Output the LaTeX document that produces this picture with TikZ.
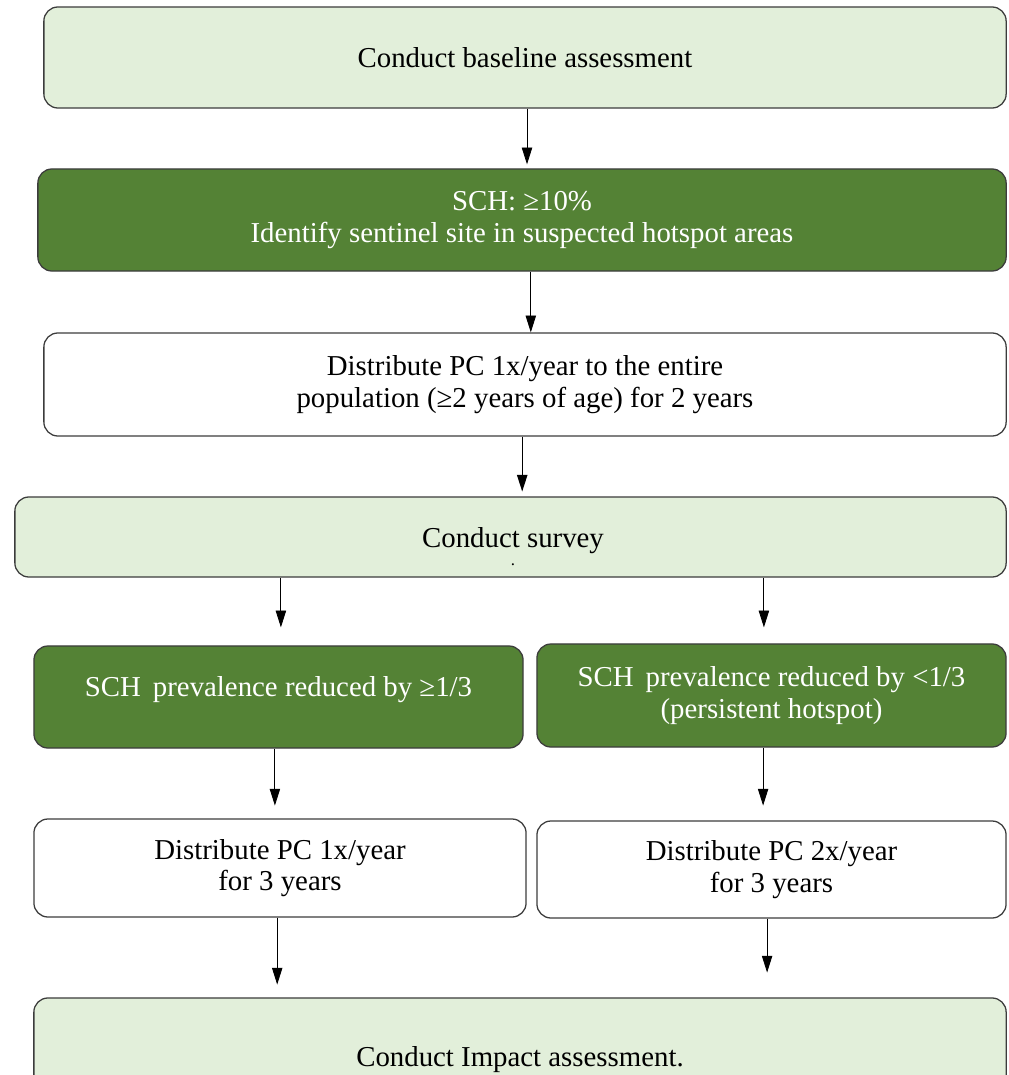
\documentclass[tikz,border=0pt]{standalone}
\usepackage{fontspec}
\setmainfont{Liberation Serif}
\usetikzlibrary{arrows.meta}
\definecolor{palegreen}{HTML}{E2EFDA}
\definecolor{darkgreen}{HTML}{548235}
\definecolor{edgegray}{HTML}{3C3C3C}
\tikzset{box/.style = {draw=edgegray, line width=0.9pt, rounded corners=0.35cm,
                       align=center, inner sep=0, font=\fontsize{20.5}{22.5}\selectfont}}
\tikzset{pale/.style = {box, fill=palegreen}}
\tikzset{dark/.style = {box, fill=darkgreen, text=white}}
\tikzset{plain/.style = {box, fill=white}}
\tikzset{arr/.style = {-{Triangle[length=0.42cm, width=0.26cm]}, line width=0.6pt}}

\begin{document}
\begin{tikzpicture}[x=0.025cm, y=-0.025cm]
    \useasboundingbox (0, 0) rectangle (1008, 1075);
    \clip (0, 0) rectangle (1008, 1075);

    \node [pale, minimum width=24.05cm, minimum height=2.525cm] (baseline) at (525, 57.5)
        {Conduct baseline assessment};
    \node [dark, minimum width=24.2cm, minimum height=2.55cm] (sentinel) at (522, 220)
        {SCH: ≥10\%\\Identify sentinel site in suspected hotspot areas};
    \node [plain, minimum width=24.05cm, minimum height=2.575cm] (pcall) at (525, 384.5)
        {Distribute PC 1x/year to the entire\\population (≥2 years of age) for 2 years};
    \node [pale, minimum width=24.775cm, minimum height=2cm] (survey) at (510.5, 537) {};
    \node [font=\fontsize{20.5}{22.5}\selectfont] (surveytext) at (513, 541) {Conduct survey};
    \node [font=\fontsize{12}{12}\selectfont, inner sep=0] (surveydot) at (513, 565) {.};

    \node [dark, minimum width=12.225cm, minimum height=2.55cm] (reduced) at (278.5, 697) {};
    \node [font=\fontsize{20.5}{22.5}\selectfont, text=white] (reducedtext) at (278.5, 690)
        {SCH\, prevalence reduced by ≥1/3};
    \node [dark, minimum width=11.725cm, minimum height=2.575cm] (persist) at (771.5, 695.5)
        {SCH\, prevalence reduced by {<}1/3\\(persistent hotspot)};

    \node [plain, minimum width=12.3cm, minimum height=2.45cm] (pconce) at (280, 868)
        {Distribute PC 1x/year\\for 3 years};
    \node [plain, minimum width=11.725cm, minimum height=2.425cm] (pctwice) at (771.5, 869.5)
        {Distribute PC 2x/year\\for 3 years};

    \node [pale, minimum width=24.3cm, minimum height=3.1cm] (impact) at (520, 1060)
        {Conduct Impact assessment.};

    \draw [arr, shorten >=0.1cm] ([xshift=0.05cm]baseline.south)
        -- ([xshift=0.05cm]baseline.south |- sentinel.north);
    \draw [arr] ([xshift=0.22cm]sentinel.south) -- ([xshift=0.22cm]sentinel.south |- pcall.north);
    \draw [arr, line width=1pt, shorten >=0.12cm] ([xshift=-0.07cm]pcall.south)
        -- ([xshift=-0.07cm]pcall.south |- survey.north);

    \draw [arr, shorten >=0.45cm] ([xshift=0.06cm]reduced.north |- survey.south)
        -- ([xshift=0.06cm]reduced.north);
    \draw [arr, shorten >=0.4cm] ([xshift=-0.19cm]persist.north |- survey.south)
        -- ([xshift=-0.19cm]persist.north);

    \draw [arr, shorten >=0.32cm] ([xshift=-0.09cm]reduced.south)
        -- ([xshift=-0.09cm]reduced.south |- pconce.north);
    \draw [arr, shorten >=0.37cm] ([xshift=-0.21cm]persist.south)
        -- ([xshift=-0.21cm]persist.south |- pctwice.north);

    \draw [arr, shorten >=0.32cm] ([xshift=-0.07cm]pconce.south)
        -- ([xshift=-0.07cm]pconce.south |- impact.north);
    \draw [arr, shorten >=0.62cm] ([xshift=-0.11cm]pctwice.south)
        -- ([xshift=-0.11cm]pctwice.south |- impact.north);
\end{tikzpicture}
\end{document}
